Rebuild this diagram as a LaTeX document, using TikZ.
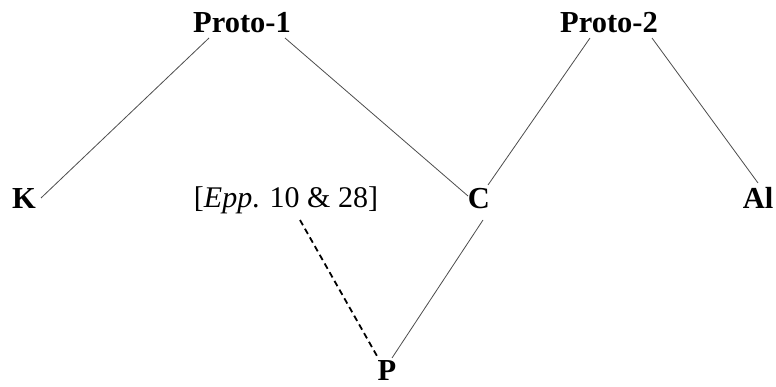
\documentclass[tikz,border=0pt]{standalone}
\usepackage{fontspec}
\setmainfont{Liberation Serif}
\usepackage{tikz}
\usetikzlibrary{calc}

\begin{document}
\begin{tikzpicture}[
        x=1pt, y=-1pt,
        word/.style={anchor=base, inner sep=0pt, font=\fontsize{30.5}{36}\selectfont\bfseries},
        source/.style={anchor=base, inner sep=0pt, font=\fontsize{30}{36}\selectfont},
        link/.style={line width=0.8pt, black!70},
        guess/.style={line width=1.8pt, black, dash pattern=on 6pt off 4pt}
    ]
        \useasboundingbox (0,0) rectangle (776,387);

        \node[word] (P1) at (242,33) {Proto-1};
        \node[word] (P2) at (609,33) {Proto-2};
        \node[word] (K) at (24,209) {K};
        \node[source] (Epp) at (286,208) {[\textit{Epp}. 10 \& 28]};
        \node[word] (C) at (479,209) {C};
        \node[word] (Al) at (758,209) {Al};
        \node[word] (P) at (387,380) {P};

        \draw[link] ($(P1.base)+(-33,5)$) -- ($(K.base)+(17,-11)$);
        \draw[link] ($(P1.base)+(43,5)$) -- ($(C.base)+(-11,-13)$);
        \draw[link] ($(P2.base)+(-19,5)$) -- ($(C.base)+(9,-24)$);
        \draw[link] ($(P2.base)+(43,5)$) -- ($(Al.base)+(0,-26)$);
        \draw[link] ($(C.base)+(4,11)$) -- ($(P.base)+(5,-22)$);
        \draw[guess] ($(Epp.base)+(14,12)$) -- ($(P.base)+(-10,-24)$);
    \end{tikzpicture}
\end{document}
